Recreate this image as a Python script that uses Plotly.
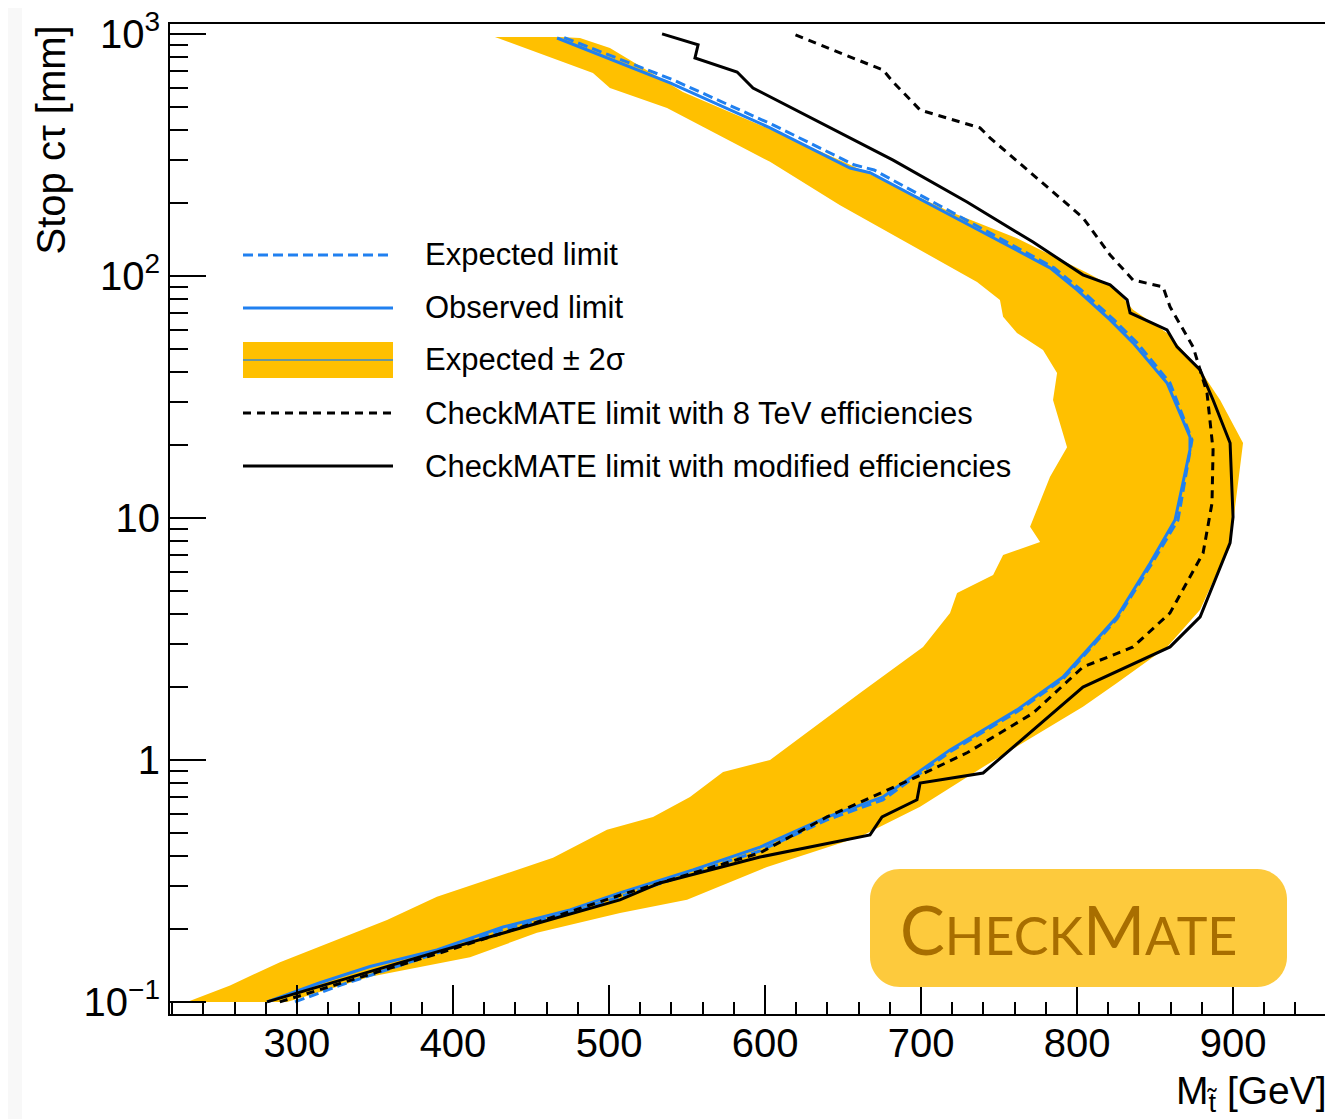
import plotly.graph_objects as go

# ---------------- data ----------------
band_mass = [293.6, 346.8, 410.9, 453.8, 507.1, 550.0, 601.3, 660.9, 699.4, 739.8,
             803.8, 825.6, 857.7, 878.9, 889.7, 898.1, 906.4, 891.7, 878.9, 857.7,
             835.9, 823.1, 806.4, 761.5, 718.6, 654.5, 611.5, 547.4, 500.6, 481.4,
             468.6, 426.9,
             489.7, 500.6, 537.2, 603.2, 648.1, 667.3, 735.9, 750.6, 752.6, 761.5,
             778.2, 787.2, 784.6, 793.6, 782.7, 769.9, 776.3, 752.6, 746.2, 723.1,
             718.6, 701.3, 660.9, 603.2, 573.1, 551.9, 528.2, 498.7, 464.1, 389.7,
             357.7, 289.1, 257.1, 229.5]
band_ctau = [0.1, 0.127, 0.153, 0.193, 0.233, 0.264, 0.361, 0.481, 0.64, 0.935,
             1.66, 2.08, 2.93, 4.17, 5.93, 7.59, 20.4, 30.7, 40.9, 58.1,
             72.4, 90.1, 103, 143, 184, 288, 383, 576, 875, 962,
             972, 972,
             690, 598, 494, 296, 196, 167, 94.4, 79.6, 67.8, 58.1,
             49.4, 39.7, 30.7, 19.6, 14.8, 9.19, 7.96, 7.03, 5.81, 4.90,
             4.05, 2.93, 1.89, 1.0, 0.891, 0.703, 0.581, 0.514, 0.394, 0.272,
             0.218, 0.146, 0.117, 0.1]

obs_mass = [280.8, 314.7, 346.8, 389.7, 432.1, 475.0, 507.0, 553.8, 596.8, 639.7,
            675.6, 718.6, 761.5, 791.0, 825.6, 846.8, 862.8, 872.4, 872.4, 857.7,
            835.9, 821.2, 800.0, 782.7, 667.3, 654.5, 603.2, 539.1, 466.7]
obs_ctau = [0.1, 0.12, 0.14, 0.164, 0.204, 0.24, 0.282, 0.351, 0.436, 0.58,
            0.703, 1.10, 1.61, 2.2, 3.9, 6.5, 9.8, 19.1, 21.6, 36.1,
            52.9, 65.8, 87.5, 108, 267, 279, 409, 628, 962]

exp_mass = [298.7, 327.6, 389.7, 432.0, 475.0, 507.0, 553.8, 596.8, 639.7, 675.6,
            718.6, 761.5, 791.0, 825.6, 848.1, 864.7, 873.7, 859.6, 838.5, 823.7,
            802.6, 785.3, 669.9, 657.0, 605.1, 541.0, 468.6]
exp_ctau = [0.1, 0.117, 0.159, 0.199, 0.233, 0.272, 0.341, 0.421, 0.565, 0.684,
            1.08, 1.58, 2.16, 3.83, 6.5, 9.8, 21.0, 36.1, 52.9, 65.8,
            87.5, 108, 274, 288, 421, 646, 981]

cm8_mass = [289.0, 389.7, 475.0, 511.5, 553.8, 596.8, 639.7, 692.9, 729.5, 771.8,
            803.8, 835.9, 859.6, 880.8, 886.5, 887.2, 883.3, 874.4, 859.6, 855.1,
            835.9, 821.2, 803.8, 774.4, 744.2, 737.8, 699.4, 682.0, 675.6, 667.3,
            618.0]
cm8_ctau = [0.1, 0.158, 0.236, 0.282, 0.341, 0.413, 0.581, 0.826, 1.07, 1.56,
            2.42, 2.93, 4.05, 7.16, 11.5, 19.1, 32.9, 50.9, 74.5, 90.1,
            96.2, 122, 174, 254, 372, 409, 485, 634, 710, 745,
            1000]

cmmod_mass = [280.8, 389.7, 507.0, 532.7, 596.8, 667.3, 675.0, 697.4, 699.4, 739.8,
              803.8, 859.6, 878.9, 898.1, 900.0, 898.1, 887.2, 878.9, 864.1, 857.7,
              834.0, 832.1, 821.2, 803.8, 771.8, 729.5, 682.1, 654.5, 592.3, 582.1,
              555.1, 557.1, 534.0]
cmmod_ctau = [0.1, 0.161, 0.264, 0.31, 0.397, 0.49, 0.581, 0.684, 0.803, 0.883,
              2.0, 2.93, 3.9, 7.89, 10.1, 20.4, 30.7, 40.9, 50.9, 59.8,
              70.3, 79.6, 91.8, 101, 138, 202, 301, 372, 598, 696,
              796, 901, 1000]

x_ticks = [300, 400, 500, 600, 700, 800, 900]
x_minor = [220, 240, 260, 280, 320, 340, 360, 380, 420, 440, 460, 480, 520, 540,
           560, 580, 620, 640, 660, 680, 720, 740, 760, 780, 820, 840, 860, 880,
           920, 940, 960]
y_ticks = [0.1, 1, 10, 100, 1000]
y_ticktext = ["10<sup>\u22121</sup>", "1", "10", "10<sup>2</sup>", "10<sup>3</sup>"]
y_minor = [0.2, 0.3, 0.4, 0.5, 0.6, 0.7, 0.8, 0.9,
           2, 3, 4, 5, 6, 7, 8, 9,
           20, 30, 40, 50, 60, 70, 80, 90,
           200, 300, 400, 500, 600, 700, 800, 900]

legend_labels = ["Expected limit", "Observed limit", "Expected \u00b1 2\u03c3",
                 "CheckMATE limit with 8 TeV efficiencies",
                 "CheckMATE limit with modified efficiencies"]

# ---------------- styles ----------------
YELLOW = "#FFC000"
BLUE = "#2080F0"
FONT = "Liberation Sans, Arial, Helvetica, sans-serif"

# page body has an 8px margin: figure is placed at page (8, 8)
OFF = 8
PAGE_W, PAGE_H = 1333, 1119
W, H = PAGE_W - OFF, PAGE_H - OFF
# plot frame in page pixels: left 170, right 1329, top 24, bottom 1014
L_M = 170 - OFF
T_M = 24 - OFF
R_M = W - (1329 - OFF)
B_M = H - (1014 - OFF)
PW = W - L_M - R_M
PH = H - T_M - B_M


def px_to_paper(px, py):
    """page pixel -> paper fraction"""
    return (px - 170) / PW, (1014 - py) / PH


fig = go.Figure()

fig.add_trace(go.Scatter(x=band_mass, y=band_ctau, mode="lines", fill="toself",
                         fillcolor=YELLOW, line=dict(width=0, color=YELLOW),
                         hoverinfo="skip", showlegend=False))
fig.add_trace(go.Scatter(x=obs_mass, y=obs_ctau, mode="lines",
                         line=dict(color=BLUE, width=3), showlegend=False))
fig.add_trace(go.Scatter(x=exp_mass, y=exp_ctau, mode="lines",
                         line=dict(color=BLUE, width=3, dash="10px,5px"), showlegend=False))
fig.add_trace(go.Scatter(x=cm8_mass, y=cm8_ctau, mode="lines",
                         line=dict(color="black", width=3, dash="8px,6px"), showlegend=False))
fig.add_trace(go.Scatter(x=cmmod_mass, y=cmmod_ctau, mode="lines",
                         line=dict(color="black", width=3), showlegend=False))

shapes = []
annotations = []

# faint grey strip at the left of the screenshot
shapes.append(dict(type="rect", xref="paper", yref="paper",
                   x0=px_to_paper(OFF, 0)[0], x1=px_to_paper(22, 0)[0],
                   y0=px_to_paper(0, PAGE_H)[1], y1=px_to_paper(0, OFF)[1],
                   fillcolor="#f8f8f8", line=dict(width=0), layer="below"))

# ---------------- hand-built legend ----------------
leg_y = [255, 308, 360, 413, 466]
lx0, _ = px_to_paper(243, 0)
lx1, _ = px_to_paper(393, 0)
tx, _ = px_to_paper(423, 0)
leg_styles = [dict(color=BLUE, width=3, dash="10px,5px"),
              dict(color=BLUE, width=3),
              None,
              dict(color="black", width=3, dash="8px,6px"),
              dict(color="black", width=3)]
for i, (lab, py) in enumerate(zip(legend_labels, leg_y)):
    _, yy = px_to_paper(0, py)
    if leg_styles[i] is None:
        _, yb0 = px_to_paper(0, py + 18)
        _, yb1 = px_to_paper(0, py - 18)
        shapes.append(dict(type="rect", xref="paper", yref="paper",
                           x0=lx0, x1=lx1, y0=yb0, y1=yb1,
                           fillcolor=YELLOW, line=dict(width=0)))
        shapes.append(dict(type="line", xref="paper", yref="paper",
                           x0=lx0, x1=lx1, y0=yy, y1=yy,
                           line=dict(color="#3C8ACB", width=1.5)))
    else:
        shapes.append(dict(type="line", xref="paper", yref="paper",
                           x0=lx0, x1=lx1, y0=yy, y1=yy, line=leg_styles[i]))
    annotations.append(dict(x=tx, y=yy, xref="paper", yref="paper", text=lab,
                            showarrow=False, xanchor="left", yanchor="middle",
                            font=dict(family=FONT, size=31, color="black")))

# ---------------- CheckMATE logo ----------------
def rounded_rect_path(x0p, y0p, x1p, y1p, r):
    x0, y0 = px_to_paper(x0p, y1p)
    x1, y1 = px_to_paper(x1p, y0p)
    rx = r / PW
    ry = r / PH
    k = 0.4477
    return (f"M{x0+rx},{y0} L{x1-rx},{y0} C{x1-rx*k},{y0} {x1},{y0+ry*k} {x1},{y0+ry} "
            f"L{x1},{y1-ry} C{x1},{y1-ry*k} {x1-rx*k},{y1} {x1-rx},{y1} "
            f"L{x0+rx},{y1} C{x0+rx*k},{y1} {x0},{y1-ry*k} {x0},{y1-ry} "
            f"L{x0},{y0+ry} C{x0},{y0+ry*k} {x0+rx*k},{y0} {x0+rx},{y0} Z")

shapes.append(dict(type="path", xref="paper", yref="paper",
                   path=rounded_rect_path(870, 869, 1287, 987, 30),
                   fillcolor="#FDCA3D", line=dict(width=0), layer="above"))
lgx, lgy = px_to_paper(1068, 929)
annotations.append(dict(x=lgx, y=lgy, xref="paper", yref="paper",
                        text="C<span style='font-size:52px'>HECK</span>M<span style='font-size:52px'>ATE</span>",
                        showarrow=False, xanchor="center", yanchor="middle",
                        font=dict(family="Lato, Open Sans, sans-serif", size=67, color="#A86E00")))

# ---------------- axis titles ----------------
ax_, ay_ = px_to_paper(50, 24)
annotations.append(dict(x=ax_, y=ay_, xref="paper", yref="paper",
                        text="Stop c\u03c4 [mm]", textangle=-90, showarrow=False,
                        xanchor="center", yanchor="top",
                        font=dict(family=FONT, size=40, color="black")))
bx_, by_ = px_to_paper(1329, 1093)
annotations.append(dict(x=bx_, y=by_, xref="paper", yref="paper",
                        text="M<sub>t\u0303</sub> [GeV]", showarrow=False,
                        xanchor="right", yanchor="middle",
                        font=dict(family=FONT, size=39, color="black")))

fig.update_layout(
    width=W, height=H,
    margin=dict(l=L_M, r=R_M, t=T_M, b=B_M, autoexpand=False),
    paper_bgcolor="white", plot_bgcolor="white",
    showlegend=False,
    shapes=shapes, annotations=annotations,
    xaxis=dict(range=[218.6, 961.5], tickmode="array", tickvals=x_ticks,
               ticks="inside", ticklen=29, tickwidth=2, tickcolor="black",
               showline=True, mirror=True, linecolor="black", linewidth=2,
               showgrid=False, zeroline=False, ticklabelstandoff=-7,
               ticklabeloverflow="allow", automargin=False,
               tickfont=dict(family=FONT, size=40, color="black"),
               minor=dict(tickmode="array", tickvals=x_minor, ticks="inside",
                          ticklen=12, tickwidth=2, tickcolor="black", showgrid=False)),
    yaxis=dict(type="log", range=[-1.05, 3.041], tickmode="array", tickvals=y_ticks,
               ticktext=y_ticktext,
               ticks="inside", ticklen=36, tickwidth=2, tickcolor="black",
               showline=True, mirror=True, linecolor="black", linewidth=2,
               showgrid=False, zeroline=False, ticklabeloverflow="allow",
               automargin=False,
               tickfont=dict(family=FONT, size=40, color="black"),
               minor=dict(tickmode="array", tickvals=y_minor, ticks="inside",
                          ticklen=18, tickwidth=2, tickcolor="black", showgrid=False)),
)

fig.write_html("out.html")
